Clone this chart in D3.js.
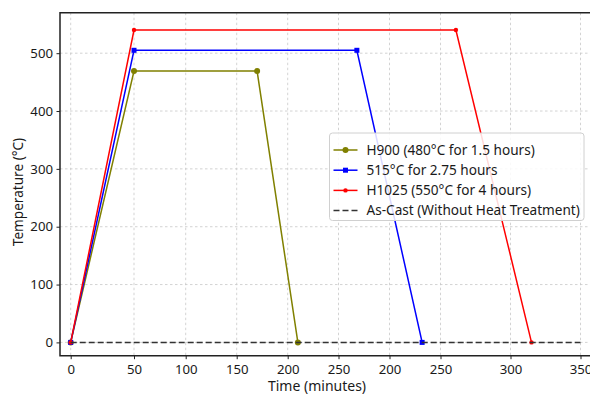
<!DOCTYPE html>
<html>
<head>
<meta charset="utf-8">
<script src="https://cdn.jsdelivr.net/npm/d3@7"></script>
<style>
  body { margin: 0; background: #fff; }
  svg text { font-family: "Noto Sans", "DejaVu Sans", sans-serif; fill: #1a1a1a; }
</style>
</head>
<body>
<svg id="chart" width="590" height="396"></svg>
<script>
"use strict"

// ---- data ----
// x positions are kept as minutes along the axis; the axis labels are the ones printed in the figure
const xTickValues = [0, 50, 100, 150, 200, 250, 300, 350, 400, 450];
const xTickLabels = ["0", "50", "100", "150", "200", "250", "200", "250", "300", "350"];
const yTickValues = [0, 100, 200, 300, 400, 500];

const h900Time = [0, 50, 170, 210];
const h900Temp = [0, 469, 469, 0];

const t515Time = [0, 50, 268, 332];
const t515Temp = [0, 505, 505, 0];

const h1025Time = [0, 50, 361, 415];
const h1025Temp = [0, 540, 540, 0];

const castTime = [0, 450];
const castTemp = [0, 0];

const seriesNames = [
    "H900 (480\u00B0C for 1.5 hours)",
    "515\u00B0C for 2.75 hours",
    "H1025 (550\u00B0C for 4 hours)",
    "As-Cast (Without Heat Treatment)"
];

// ---- layout ----
const plot = { left: 60, top: 12.7, right: 596, bottom: 355.7 };

// the printed axis is not evenly spaced, so the x scale is piecewise
const xRangeStops = [70.7, 134, 185.7, 236.7, 287.7, 338.5, 389.5, 440.5, 510.5, 580.5];

const x = d3.scaleLinear().domain(xTickValues).range(xRangeStops);
const y = d3.scaleLinear().domain([-23, 570]).range([plot.bottom, plot.top]);

const svg = d3.select("#chart");

//gridlines
const grid = svg.append("g").attr("class", "grid")
    .attr("stroke", "#c8c8c8")
    .attr("stroke-width", 0.8)
    .attr("stroke-dasharray", "2.5,2.5");

grid.selectAll(".gx").data(xTickValues).join("line")
    .attr("x1", d => x(d)).attr("x2", d => x(d))
    .attr("y1", plot.top).attr("y2", plot.bottom);

grid.selectAll(".gy").data(yTickValues).join("line")
    .attr("x1", plot.left).attr("x2", plot.right)
    .attr("y1", d => y(d)).attr("y2", d => y(d));

//axes
const xAxis = d3.axisBottom(x)
    .tickValues(xTickValues)
    .tickFormat((d, i) => xTickLabels[i])
    .tickSizeInner(3.5).tickSizeOuter(0).tickPadding(5);

const yAxis = d3.axisLeft(y)
    .tickValues(yTickValues)
    .tickSizeInner(3.5).tickSizeOuter(0).tickPadding(3.5);

const gx = svg.append("g")
    .attr("transform", `translate(0,${plot.bottom})`)
    .call(xAxis);

const gy = svg.append("g")
    .attr("transform", `translate(${plot.left},0)`)
    .call(yAxis);

[gx, gy].forEach(g => {
    g.select(".domain").remove();
    g.selectAll("text").attr("font-size", 13.2).attr("fill", "#1a1a1a")
        .attr("font-family", "'Noto Sans', 'DejaVu Sans', sans-serif");
    g.selectAll("line").attr("stroke", "#222");
});

//frame (right side falls outside the picture)
svg.append("path")
    .attr("d", `M${plot.right},${plot.top}H${plot.left}V${plot.bottom}H${plot.right}`)
    .attr("fill", "none")
    .attr("stroke", "#222")
    .attr("stroke-width", 1.5);

//axis titles
svg.append("text")
    .attr("x", 317).attr("y", 391)
    .attr("text-anchor", "middle")
    .attr("font-size", 14)
    .text("Time (minutes)");

svg.append("text")
    .attr("transform", "translate(23,192) rotate(-90)")
    .attr("text-anchor", "middle")
    .attr("font-size", 13.6)
    .text("Temperature (\u00B0C)");

// ---- series ----
const series = [
    { name: seriesNames[0], t: h900Time, v: h900Temp, color: "#808000", marker: "circle", size: 3, dash: null },
    { name: seriesNames[1], t: t515Time, v: t515Temp, color: "#0000ff", marker: "square", size: 5, dash: null },
    { name: seriesNames[2], t: h1025Time, v: h1025Temp, color: "#ff0000", marker: "dot", size: 2.2, dash: null },
    { name: seriesNames[3], t: castTime, v: castTemp, color: "#333", marker: null, size: 0, dash: "6,3" }
];

const line = d3.line().x(d => x(d[0])).y(d => y(d[1]));

function drawMarker(g, m, cx, cy, color) {
    if (m.marker === "square") {
        g.append("rect")
            .attr("x", cx - m.size / 2).attr("y", cy - m.size / 2)
            .attr("width", m.size).attr("height", m.size)
            .attr("fill", color);
    } else if (m.marker) {
        g.append("circle")
            .attr("cx", cx).attr("cy", cy).attr("r", m.size)
            .attr("fill", color);
    }
}

const lines = svg.append("g");
series.forEach(s => {
    const pts = s.t.map((t, i) => [t, s.v[i]]);
    const g = lines.append("g");
    g.append("path")
        .attr("d", line(pts))
        .attr("fill", "none")
        .attr("stroke", s.color)
        .attr("stroke-width", 1.5)
        .attr("stroke-dasharray", s.dash);
    pts.forEach(p => drawMarker(g, s, x(p[0]), y(p[1]), s.color));
});

// ---- legend ----
const legend = svg.append("g").attr("transform", "translate(329.5,133)");
legend.append("rect")
    .attr("width", 254.5).attr("height", 87.5)
    .attr("rx", 3)
    .attr("fill", "#fff").attr("fill-opacity", 0.85)
    .attr("stroke", "#d0d0d0");

series.forEach((s, i) => {
    const row = legend.append("g").attr("transform", `translate(0,${17 + i * 20.2})`);
    row.append("line")
        .attr("x1", 4).attr("x2", 28)
        .attr("stroke", s.color)
        .attr("stroke-width", 1.5)
        .attr("stroke-dasharray", s.dash);
    drawMarker(row, s, 16, 0, s.color);
    row.append("text")
        .attr("x", 37).attr("y", 0)
        .attr("dy", "0.35em")
        .attr("font-size", 13.6)
        .text(s.name);
});
</script>
</body>
</html>
